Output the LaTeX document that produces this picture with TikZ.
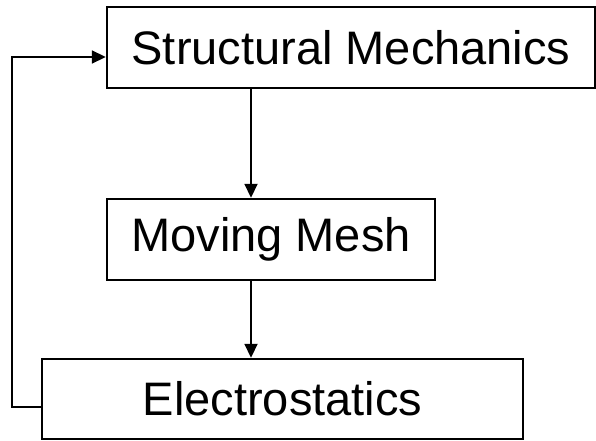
\documentclass[tikz,border=0pt]{standalone}
\usepackage{fontspec}
\setmainfont{Liberation Sans}
\usetikzlibrary{arrows.meta}
\begin{document}
\begin{tikzpicture}[x=1pt,y=1pt,
  blk/.style={draw=black,line width=2.4pt,fill=white,inner sep=0pt,
    font=\fontsize{47}{56}\selectfont,text=black},
  arr/.style={draw=black,line width=1.8pt,-{Triangle[length=14pt,width=13pt]}},
  lnk/.style={draw=black,line width=1.8pt}]
\useasboundingbox (0,0) rectangle (596,440);
\node[blk,minimum width=488pt,minimum height=81pt] (sm) at (351,392.5) {Structural Mechanics};
\node[blk,minimum width=328pt,minimum height=81pt] (mm) at (271,200.5) {Moving Mesh};
\node[blk,minimum width=481pt,minimum height=80pt] (el) at (282.5,41) {Electrostatics};
\coordinate (ax) at (251,0);
\coordinate (fbx) at (12,0);
\coordinate (ylo) at (0,33);
\coordinate (yhi) at (0,383);
\draw[arr] (sm.south -| ax) -- (mm.north -| ax);
\draw[arr] (mm.south -| ax) -- (el.north -| ax);
\draw[arr] (el.west |- ylo) -| (fbx |- yhi) -- (sm.west |- yhi);
\end{tikzpicture}
\end{document}
